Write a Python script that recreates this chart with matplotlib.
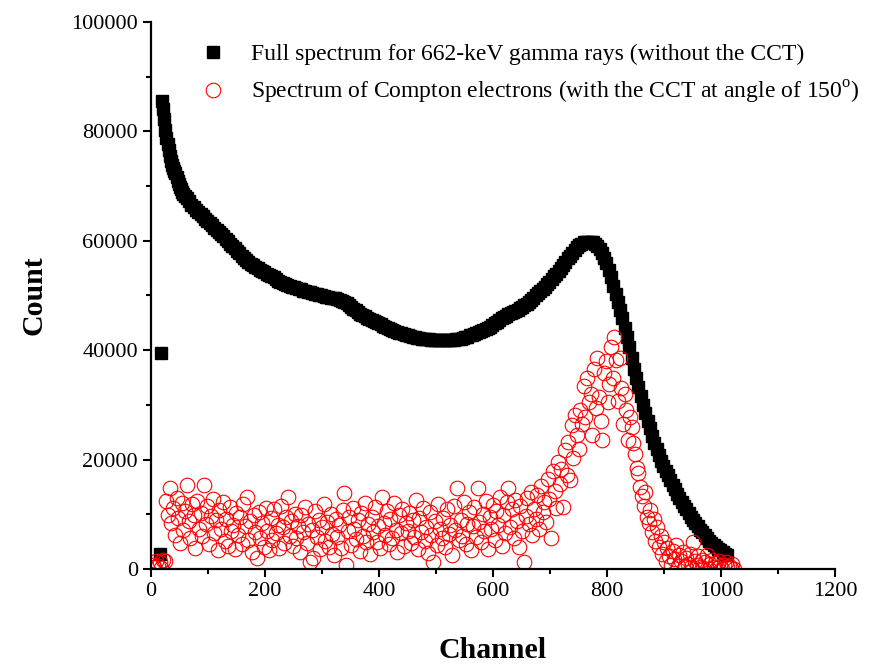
import numpy as np
import matplotlib
matplotlib.use("Agg")
import matplotlib.pyplot as plt

plt.rcParams['font.family'] = ['Liberation Serif', 'DejaVu Serif']
plt.rcParams['mathtext.fontset'] = 'custom'
plt.rcParams['mathtext.rm'] = 'Liberation Serif'

# full spectrum (black squares)
# first two channels, then step 2 over the steep start, then step 4
full_ch_start = [15, 17]
full_cnt_start = [2700, 39500]

full_cnt_a = [85500, 84000, 82200, 80300, 78800, 77600, 76600, 75500, 74600, 73900,
              73300, 72800, 72300, 71700, 71000, 70300, 69800, 69400, 69000, 68600,
              68200]  # ch 19..59 step 2

full_cnt_b = [  # ch 63..1011 step 4
    67800, 67200, 66600, 66100, 65700, 65300, 64900, 64500, 64000, 63600,
    63200, 62800, 62400, 62000, 61600, 61200, 60800, 60400, 59900, 59400,
    59000, 58600, 58100, 57700, 57300, 56900, 56500, 56100, 55800, 55500,
    55200, 55000, 54700, 54500, 54300, 54000, 53800, 53500, 53300, 53000,
    52700, 52500, 52300, 52100, 51900, 51700, 51600, 51500, 51300, 51200,
    51100, 50900, 50800, 50700, 50600, 50400, 50300, 50200, 50100, 50000,
    49900, 49800, 49700, 49600, 49600, 49500, 49400, 49200, 49000, 48800,
    48600, 48300, 47900, 47600, 47300, 47000, 46700, 46500, 46200, 45900,
    45700, 45500, 45300, 45100, 44900, 44700, 44500, 44300, 44100, 43900,
    43700, 43500, 43400, 43200, 43100, 42900, 42800, 42700, 42600, 42500,
    42400, 42300, 42200, 42100, 42100, 42000, 42000, 41900, 41900, 41900,
    41800, 41800, 41800, 41800, 41800, 41800, 41900, 41900, 42000, 42000,
    42100, 42300, 42400, 42500, 42700, 42800, 43000, 43200, 43300, 43500,
    43700, 43900, 44100, 44300, 44600, 44900, 45200, 45500, 45800, 46000,
    46300, 46600, 46800, 47000, 47200, 47400, 47700, 47900, 48200, 48500,
    48800, 49200, 49600, 50000, 50400, 50800, 51200, 51600, 52100, 52500,
    53000, 53500, 54000, 54500, 55100, 55600, 56200, 56800, 57300, 57800,
    58300, 58800, 59200, 59500, 59700, 59800, 59800, 59800, 59700, 59400,
    59000, 58500, 57800, 56900, 55900, 54700, 53300, 51800, 50200, 48800,
    47300, 45800, 44100, 42400, 40600, 38500, 36600, 35000, 33300, 31600,
    30000, 28500, 27100, 25700, 24400, 23100, 21900, 20800, 19800, 18900,
    18000, 17100, 16200, 15400, 14600, 13800, 13000, 12300, 11600, 10900,
    10200, 9600, 9000, 8400, 7800, 7200, 6700, 6200, 5700, 5200,
    4800, 4400, 4000, 3700, 3400, 3100, 2800, 2600]

# Compton electrons (red circles), ch 3..1023 step 3
compton_cnt = [
    800, 300, 1500, 600, 1200, 200, 1700, 1400, 12500, 9800,
    14800, 8500, 11200, 6300, 13000, 9400, 4800, 12100, 7200, 10600,
    15300, 8800, 5600, 11800, 9900, 3900, 12400, 7400, 10300, 6100,
    15300, 8200, 11500, 4500, 9700, 12800, 6600, 8900, 3400, 10800,
    7300, 12200, 5100, 9200, 4200, 11300, 6900, 8100, 3700, 10200,
    6200, 9600, 4600, 11900, 7800, 13200, 5300, 8700, 3200, 9900,
    6800, 2000, 10400, 5700, 8400, 4100, 11100, 7000, 3500, 9300,
    5400, 10900, 6500, 8000, 3900, 11600, 7600, 4800, 9500, 13200,
    6000, 8800, 4300, 10100, 5600, 7900, 3100, 9800, 6700, 11400,
    4700, 8300, 1300, 7100, 2000, 10600, 5900, 9000, 3600, 7700,
    11800, 5200, 8600, 4000, 10000, 6400, 2600, 9200, 5800, 8100,
    3800, 10800, 13900, 700, 6900, 9500, 4400, 11200, 7300, 5500,
    8900, 3300, 10300, 6100, 12100, 4900, 8200, 2800, 9600, 6700,
    11400, 5000, 7800, 3900, 13200, 8500, 6300, 10700, 4600, 9100,
    5700, 12000, 7200, 3200, 9800, 6600, 11000, 4200, 8400, 7000,
    10200, 4800, 8900, 5900, 12600, 3600, 9400, 6800, 11100, 5200,
    7600, 3000, 10500, 6200, 1300, 8700, 4400, 11800, 7300, 5600,
    9300, 4100, 10900, 6400, 8000, 2600, 11500, 7100, 14800, 5300,
    9000, 6000, 12200, 4500, 8300, 10400, 3400, 7800, 11300, 5800,
    14800, 8600, 4900, 10100, 6900, 12500, 3700, 9500, 7400, 11700,
    5400, 10700, 8100, 13100, 4300, 9900, 6600, 12300, 14800, 7700,
    10900, 5600, 12700, 8800, 4000, 11500, 7000, 1300, 9700, 12900,
    8300, 14100, 6300, 11000, 9200, 13600, 7400, 15200, 10400, 12300,
    8600, 16400, 12800, 5700, 17900, 14300, 11100, 19600, 15600, 18300,
    11300, 21800, 17200, 23300, 16300, 26400, 20300, 28100, 24500, 22000,
    29000, 26500, 33500, 27800, 35000, 30600, 32000, 24500, 36500, 29500,
    38500, 31500, 27000, 23600, 35800, 38000, 30500, 33800, 40500, 35000,
    42400, 38200, 30800, 38500, 33000, 26500, 32000, 29000, 23500, 27800,
    26000, 23000, 21000, 18500, 17500, 15000, 13400, 11500, 14000, 9500,
    8500, 10800, 6800, 9200, 5200, 7600, 4000, 6100, 2800, 5000,
    1500, 3900, 2300, 800, 3300, 1800, 4400, 600, 2600, 1400,
    3200, 500, 2000, 1000, 2800, 300, 5000, 1500, 700, 2300,
    400, 1700, 200, 1200, 2500, 100, 900, 1600, 300, 1100,
    200, 1400, 500, 100, 800, 1300, 300, 600, 200, 900,
    100]

full_ch = np.concatenate([full_ch_start,
                          19 + 2 * np.arange(len(full_cnt_a)),
                          63 + 4 * np.arange(len(full_cnt_b))])
full_cnt = np.concatenate([full_cnt_start, full_cnt_a, full_cnt_b])
compton_ch = 3 + 3 * np.arange(len(compton_cnt))

fig = plt.figure(figsize=(8.96, 6.64), dpi=100)
ax = fig.add_axes([0.1685, 0.143, 0.7635, 0.824])

ax.plot(full_ch, full_cnt, linestyle='none', marker='s', ms=8,
        color='black', label='Full spectrum for 662-keV gamma rays (without the CCT)')
ax.plot(compton_ch, compton_cnt, linestyle='none', marker='o', ms=10.5,
        mfc='none', mec='red', mew=0.8,
        label='Spectrum of Compton electrons (with the CCT at angle of 150$^{\\rm o}$)')

ax.set_xlim(0, 1200)
ax.set_ylim(0, 100000)
ax.set_xticks(np.arange(0, 1201, 200))
ax.set_xticks(np.arange(100, 1200, 200), minor=True)
ax.set_yticks(np.arange(0, 100001, 20000))
ax.set_yticks(np.arange(10000, 100000, 20000), minor=True)

for s in ['top', 'right']:
    ax.spines[s].set_visible(False)
for s in ['left', 'bottom']:
    ax.spines[s].set_linewidth(1.6)
ax.tick_params(which='major', direction='out', length=6, width=1.5, labelsize=16)
ax.tick_params(which='minor', direction='out', length=3.5, width=1.5)

ax.set_xlabel('Channel', fontsize=21.5, fontweight='bold', labelpad=26)
ax.set_ylabel('Count', fontsize=21.5, fontweight='bold', labelpad=17)

ax.legend(loc='upper left', bbox_to_anchor=(0.049, 0.99), frameon=False,
          fontsize=17, handlelength=1.0, handletextpad=1.1, labelspacing=0.55,
          borderaxespad=0.3)

fig.savefig('out.png', dpi=100)
